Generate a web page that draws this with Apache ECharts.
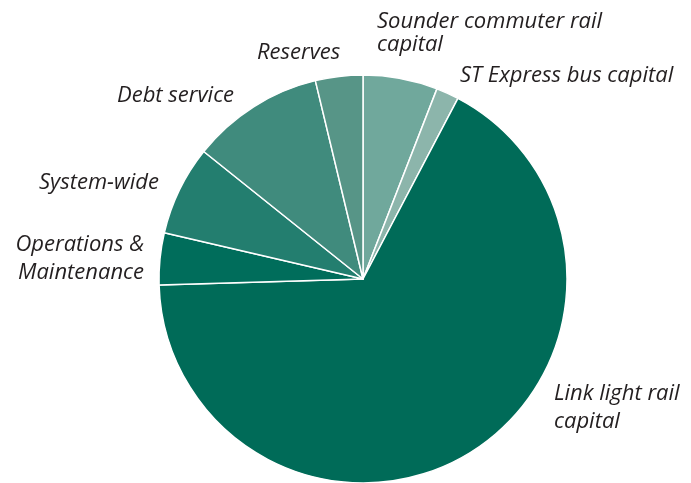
<!DOCTYPE html>
<html><head><meta charset="utf-8">
<script src="https://cdn.jsdelivr.net/npm/echarts@6/dist/echarts.min.js"></script>
<style>html,body{margin:0;padding:0;background:#fff}#c{width:691px;height:483px}</style>
</head><body><div id="c"></div>
<script>
var categories = ["Sounder commuter rail\ncapital","ST Express bus capital","Link light rail\ncapital","Operations &\nMaintenance","System-wide","Debt service","Reserves"];
var values = [5.9, 1.8, 66.8, 4.1, 7.1, 10.5, 3.75];
var colors = ["#70a89c","#8cb5ab","#006b58","#006d5b","#237e6f","#408b7d","#579587"];
var labelPos = [
  {x:377, y:33, align:'left', lh:23},
  {x:460, y:76, align:'left', lh:27},
  {x:554, y:408, align:'left', lh:28},
  {x:144, y:259, align:'right', lh:28},
  {x:39, y:183, align:'left', lh:27},
  {x:117, y:96, align:'left', lh:27},
  {x:257, y:53, align:'left', lh:27}
];
var chart = echarts.init(document.getElementById('c'));
chart.setOption({
  animation:false,
  series:[{
    type:'pie',
    center:[363,279],
    radius:[0,204],
    startAngle:90,
    clockwise:true,
    itemStyle:{borderColor:'#fff',borderWidth:1.5},
    label:{show:true, formatter:'{b}', fontFamily:'Open Sans', fontStyle:'italic', fontSize:22, color:'#231f20', overflow:'none'},
    labelLine:{show:false},
    labelLayout:function(p){var l=labelPos[p.dataIndex];return {x:l.x,y:l.y,align:l.align,verticalAlign:'middle'};},
    data: categories.map(function(c,i){return {name:c, value:values[i], itemStyle:{color:colors[i]}, label:{lineHeight:labelPos[i].lh, width:300, overflow:'none'}};})
  }]
});
</script></body></html>
